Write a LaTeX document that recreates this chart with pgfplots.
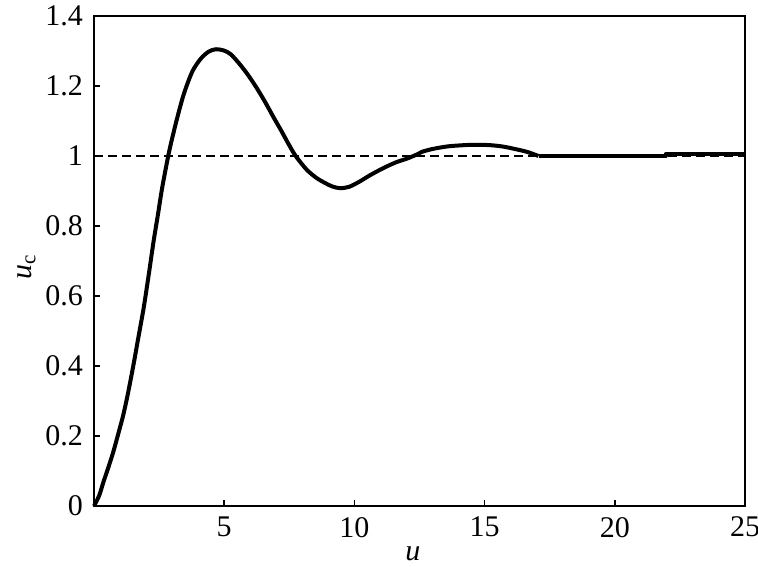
\documentclass[border=0pt]{standalone}
\usepackage{fontspec}
\setmainfont{Liberation Serif}
\usepackage{pgfplots}
\pgfplotsset{compat=1.18}
\begin{document}
\begin{tikzpicture}
\useasboundingbox (-47pt,-30pt) rectangle (332pt,253pt);
\begin{axis}[
  scale only axis,
  width=325.5pt, height=245pt,
  xmin=0, xmax=25, ymin=0, ymax=1.4,
  xtick={5,10,15,20,25},
  ytick={0,0.2,0.4,0.6,0.8,1,1.2,1.4},
  yticklabels={0,0.2,0.4,0.6,0.8,1,1.2,1.4},
  tick pos=left,
  tick align=inside,
  major tick length=3pt,
  axis line style={line width=0.8pt},
  every tick/.style={black, line width=0.8pt},
  /pgf/number format/assume math mode=true,
  tick label style={font=\fontsize{15}{18}\selectfont},
  xticklabel style={yshift=-2pt},
  yticklabel style={xshift=-2pt},
  label style={font=\fontsize{15}{18}\selectfont},
  xlabel={\textit{u}},
  ylabel={\textit{u}\textsubscript{c}},
  xlabel style={at={(axis description cs:0.49,0)}, anchor=north, yshift=-17pt},
  ylabel style={yshift=-2pt, xshift=-3pt},
  clip=false,
]
\addplot[black, line width=0.75pt, dash pattern=on 4.5pt off 2.5pt] coordinates {(0,1) (25,1)};
\addplot[black, line width=2pt, line join=round, smooth, tension=0.5] coordinates {
(0,0) (0.2,0.03) (0.36,0.068) (0.55,0.11) (0.75,0.157) (1.0,0.225) (1.13,0.262)
(1.3,0.32) (1.52,0.405) (1.7,0.48) (1.91,0.567) (2.1,0.66) (2.29,0.757)
(2.45,0.83) (2.62,0.91) (2.85,1.0) (3.0,1.05) (3.2,1.11) (3.4,1.165)
(3.58,1.205) (3.8,1.245) (4.1,1.278) (4.4,1.298) (4.68,1.305) (5.0,1.301)
(5.26,1.29) (5.6,1.262) (5.9,1.233) (6.2,1.2) (6.55,1.157) (6.9,1.11)
(7.2,1.071) (7.45,1.037) (7.7,1.005) (7.95,0.98) (8.22,0.957) (8.55,0.937)
(8.87,0.923) (9.15,0.913) (9.45,0.908) (9.8,0.912) (10.2,0.927) (10.6,0.945)
(11.1,0.965) (11.6,0.982) (12.0,0.992) (12.39,1.004) (12.6,1.012) (13.0,1.02)
(13.54,1.027) (14.0,1.03) (14.57,1.032) (15.2,1.031) (15.7,1.027) (16.1,1.021)
(16.62,1.012) (17.07,1.0)
};
\addplot[black, line width=2pt, line join=round] coordinates {
(17.07,1.0) (21.95,1.0) (21.95,1.006) (25,1.006)
};
\end{axis}
\end{tikzpicture}
\end{document}
